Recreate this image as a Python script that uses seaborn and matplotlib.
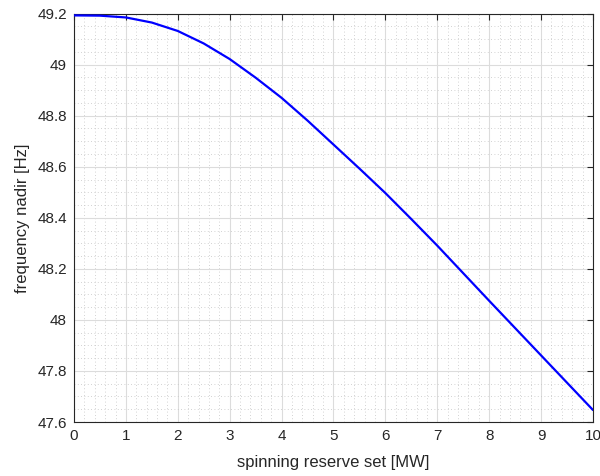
import matplotlib
matplotlib.use("Agg")
import matplotlib.pyplot as plt
import seaborn as sns
import pandas as pd
from matplotlib.ticker import MultipleLocator, FuncFormatter

reserve_mw = [0, 0.5, 1, 1.5, 2, 2.5, 3, 3.5, 4, 4.5, 5, 5.5, 6, 6.5, 7, 7.5, 8, 8.5, 9, 9.5, 10]
nadir_hz = [49.193, 49.192, 49.185, 49.165, 49.132, 49.083, 49.022, 48.949, 48.870, 48.781,
            48.687, 48.593, 48.497, 48.395, 48.291, 48.183, 48.075, 47.968, 47.861, 47.754, 47.647]

df = pd.DataFrame({"reserve": reserve_mw, "nadir": nadir_hz})

sns.set_style("white")
plt.rcParams['font.family'] = ['Liberation Sans', 'DejaVu Sans']

fig = plt.figure(figsize=(6.0, 4.76), dpi=100)
ax = fig.add_axes([0.1233, 0.1134, 0.865, 0.858])

sns.lineplot(data=df, x="reserve", y="nadir", ax=ax, color=(0, 0, 1), linewidth=1.6, zorder=5)

ax.set_xlim(0, 10)
ax.set_ylim(47.6, 49.2)
ax.xaxis.set_major_locator(MultipleLocator(1))
ax.xaxis.set_minor_locator(MultipleLocator(0.2))
ax.yaxis.set_major_locator(MultipleLocator(0.2))
ax.yaxis.set_minor_locator(MultipleLocator(0.05))
ax.yaxis.set_major_formatter(FuncFormatter(lambda v, p: f"{v:g}"))
ax.xaxis.set_major_formatter(FuncFormatter(lambda v, p: f"{v:g}"))

ax.grid(which="major", color="#dcdcdc", linewidth=0.8, linestyle="-")
ax.grid(which="minor", color="#c4c4c4", linewidth=0.6, linestyle=(0, (1, 3)))
ax.set_axisbelow(True)

ax.tick_params(which="major", direction="in", length=4.5, width=0.8, top=True, right=True,
               labelsize=11, colors="#262626", pad=5)
ax.tick_params(which="minor", direction="in", length=0, top=True, right=True)
for s in ax.spines.values():
    s.set_color("#262626")
    s.set_linewidth(0.8)
    s.set_visible(True)

ax.set_xlabel("spinning reserve set [MW]", fontsize=12, color="#262626", labelpad=9)
ax.set_ylabel("frequency nadir [Hz]", fontsize=12, color="#262626", labelpad=5)

fig.savefig("out.png", dpi=100)
